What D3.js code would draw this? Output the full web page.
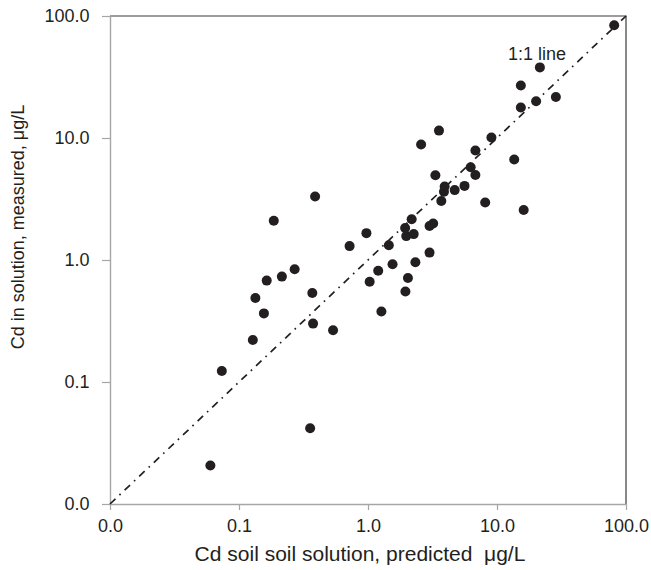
<!DOCTYPE html>
<html lang="en">
<head>
<meta charset="utf-8">
<script src="https://d3js.org/d3.v7.min.js"></script>
<style>
  body { margin: 0; background: #fff; }
  svg text { font-family: "Liberation Sans", Arial, sans-serif; fill: #231f20; }
</style>
</head>
<body>
<div id="chart"></div>
<script>
// values (μg/L)
const predicted = [81, 21.5, 15.3, 28.6, 20.1, 15.3, 3.55, 9.05, 2.58, 6.8,
  13.6, 6.25, 3.33, 6.8, 3.93, 5.6, 4.7, 3.88, 3.7, 8.1,
  16.1, 0.389, 0.186, 2.18, 3.2, 3.0, 1.94, 0.972, 1.98, 2.26,
  3.0, 1.45, 0.72, 1.55, 2.33, 1.2, 0.27, 0.215, 0.164, 1.03,
  2.04, 1.95, 0.37, 0.134, 0.156, 1.27, 0.375, 0.536, 0.128, 0.0736,
  0.356, 0.06]
const measured = [84, 37.9, 26.9, 21.7, 20.0, 17.8, 11.5, 10.1, 8.85, 7.9,
  6.67, 5.75, 4.95, 4.97, 4.0, 4.05, 3.74, 3.62, 3.05, 2.96,
  2.57, 3.32, 2.1, 2.16, 1.99, 1.9, 1.83, 1.66, 1.57, 1.63,
  1.15, 1.32, 1.3, 0.924, 0.957, 0.816, 0.84, 0.731, 0.678, 0.664,
  0.711, 0.552, 0.537, 0.488, 0.365, 0.378, 0.301, 0.266, 0.221, 0.123,
  0.0418, 0.0207]
const ticks = [0.01, 0.1, 1, 10, 100]
const oneToOne = [0.01, 100]

const width = 651
const height = 570
const plotL = 110, plotR = 626, plotT = 16, plotB = 504

const svg = d3.select("#chart").append("svg")
    .attr("width", width)
    .attr("height", height)

const xScale = d3.scaleLog().domain([0.01, 100]).range([plotL, plotR])
const yScale = d3.scaleLog().domain([0.01, 100]).range([plotB, plotT])
const fmt = d3.format(".1f")

// top + right frame
svg.append("path")
    .attr("d", `M${plotL},${plotT}H${plotR}V${plotB}`)
    .attr("fill", "none")
    .attr("stroke", "#3a3a3a")
    .attr("stroke-width", 1.2)

const xAxis = d3.axisBottom(xScale).tickValues(ticks).tickFormat(fmt)
    .tickSize(6).tickSizeOuter(0).tickPadding(9)
const gx = svg.append("g")
    .attr("transform", "translate(0," + plotB + ")")
    .call(xAxis)

const yAxis = d3.axisLeft(yScale).tickValues(ticks).tickFormat(fmt)
    .tickSize(8).tickSizeOuter(0).tickPadding(12.5)
const gy = svg.append("g")
    .attr("transform", "translate(" + plotL + ",0)")
    .call(yAxis)

for (const g of [gx, gy]) {
    g.select(".domain").attr("stroke", "#a6a6a6").attr("stroke-width", 1.4)
    g.selectAll(".tick line").attr("stroke", "#a6a6a6").attr("stroke-width", 1.2)
    g.selectAll(".tick text")
        .style("font-family", "'Liberation Sans', Arial, sans-serif")
        .style("font-size", "18px")
        .attr("fill", "#231f20")
}

// 1:1 line
svg.append("line")
    .attr("x1", xScale(oneToOne[0]))
    .attr("y1", yScale(oneToOne[0]))
    .attr("x2", xScale(oneToOne[1]))
    .attr("y2", yScale(oneToOne[1]))
    .attr("stroke", "#231f20")
    .attr("stroke-width", 1.7)
    .attr("stroke-dasharray", "7.5,5.5,1.6,5.5")

svg.append("text")
    .attr("x", 508)
    .attr("y", 60)
    .style("font-size", "18px")
    .text("1:1 line")

const pts = predicted.map((d, i) => ({x: d, y: measured[i]}))
svg.selectAll("circle")
    .data(pts)
    .join("circle")
    .attr("cx", d => xScale(d.x))
    .attr("cy", d => yScale(d.y))
    .attr("r", 5)
    .attr("fill", "#231f20")

svg.append("text")
    .attr("x", 360)
    .attr("y", 561)
    .style("text-anchor", "middle")
    .style("font-size", "21px")
    .style("white-space", "pre")
    .text("Cd soil soil solution, predicted  μg/L")

svg.append("text")
    .attr("transform", "translate(24,227) rotate(-90)")
    .style("text-anchor", "middle")
    .style("font-size", "18px")
    .text("Cd in solution, measured, μg/L")
</script>
</body>
</html>
